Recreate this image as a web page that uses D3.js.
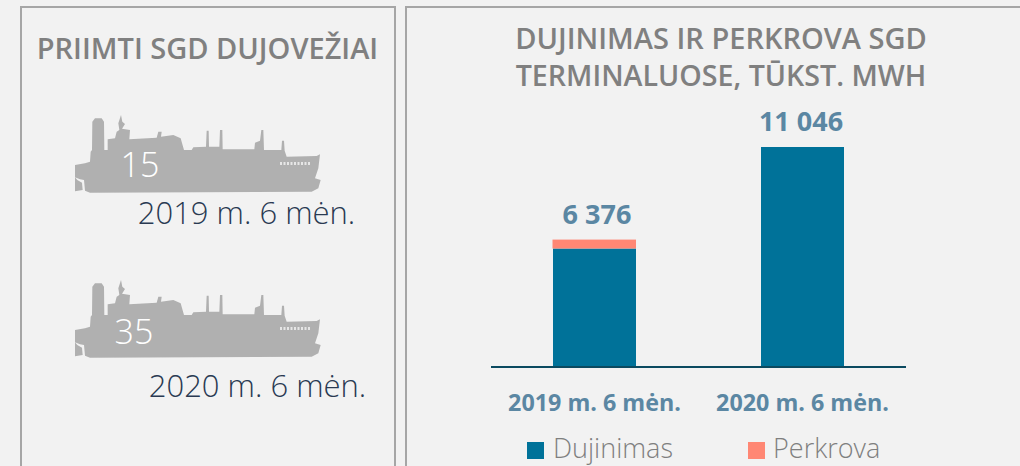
<!DOCTYPE html>
<html><head><meta charset="utf-8">
<script src="https://cdn.jsdelivr.net/npm/d3@7"></script>
<style>html,body{margin:0;padding:0;background:#f2f2f2;overflow:hidden}svg{display:block}text{font-family:"Open Sans",sans-serif}</style>
</head><body><svg id="c" width="1020" height="466"></svg>
<script>
const categories = ["2019 m. 6 mėn.", "2020 m. 6 mėn."];
const dujinimas = [5926, 11046];
const perkrova = [450, 0];
const totalLabels = ["6 376", "11 046"];
const vessels = [15, 35];
const seriesNames = ["Dujinimas", "Perkrova"];
const colors = ["#007299", "#ff8774"];
const shipOutline = [[45,195],[75,190],[90,185],[92,155],[96,150],[97,65],[105,55],[125,55],[132,65],[133,150],[143,150],[143,118],[165,115],[170,95],[178,90],[175,70],[183,45],[187,65],[195,72],[186,86],[210,90],[208,118],[290,113],[295,95],[305,95],[303,110],[340,105],[362,115],[372,150],[395,150],[400,142],[438,140],[440,92],[446,92],[447,140],[478,140],[480,90],[487,90],[488,148],[583,148],[585,128],[600,122],[604,90],[610,90],[612,150],[664,150],[666,122],[672,122],[674,152],[680,170],[770,168],[780,163],[775,205],[765,235],[782,240],[775,265],[755,275],[90,278],[75,272],[72,240],[60,238],[45,232],[52,240],[66,248],[68,270],[45,274]];

const svg = d3.select("#c");
const panels = [[20,6,376,480],[405,6,640,480]];
svg.selectAll("rect.panel").data(panels).join("rect").attr("class","panel")
  .attr("x",d=>d[0]+1).attr("y",d=>d[1]+1).attr("width",d=>d[2]-2).attr("height",d=>d[3])
  .attr("fill","none").attr("stroke","#a6a6a6").attr("stroke-width",2);

const title = (x,y,t,s)=>svg.append("text").attr("x",x).attr("y",y).attr("text-anchor","middle")
  .attr("font-size",s).attr("font-weight",600).attr("fill","#808080").text(t);
title(207.5,59,"PRIIMTI SGD DUJOVEŽIAI",29);
title(721,49,"DUJINIMAS IR PERKROVA SGD",29);
title(721,86,"TERMINALUOSE, TŪKST. MWH",28.6);

// ships
const shipLine = d3.line().x(d=>d[0]/3).y(d=>d[1]/3);
const shipPos = [[60,100],[60,265]];
const numPos = [[140,177],[134,344]];
const capPos = [[246.5,224],[257.5,397]];
vessels.forEach((v,i)=>{
  const s = svg.append("g").attr("transform",`translate(${shipPos[i][0]},${shipPos[i][1]})`);
  s.append("path").attr("d",shipLine(shipOutline)+"Z").attr("fill","#b0b0b0");
  s.append("line").attr("x1",220).attr("x2",250).attr("y1",63.5).attr("y2",63.5)
    .attr("stroke","#e6e6e6").attr("stroke-width",3).attr("stroke-dasharray","2 1.5");
  svg.append("text").attr("x",numPos[i][0]).attr("y",numPos[i][1]).attr("text-anchor","middle")
    .attr("font-size",34).attr("font-weight",300).attr("fill","#fff").text(v);
  svg.append("text").attr("x",capPos[i][0]).attr("y",capPos[i][1]).attr("text-anchor","middle")
    .attr("font-size",31).attr("font-weight",300).attr("fill","#2a3a52").text(categories[i]);
});

// bars
const bw = 83;
const cx = d3.scalePoint().domain(categories).range([594.5,802.5]);
const y = d3.scaleLinear().domain([0,11046]).range([366,147]);
const g = svg.append("g");
g.selectAll("rect.d").data(categories).join("rect").attr("class","d")
  .attr("x",d=>cx(d)-bw/2).attr("width",bw)
  .attr("y",(d,i)=>y(dujinimas[i])).attr("height",(d,i)=>y(0)-y(dujinimas[i])).attr("fill",colors[0]);
g.selectAll("rect.p").data(categories).join("rect").attr("class","p")
  .attr("x",d=>cx(d)-bw/2-0.5).attr("width",bw+0.5)
  .attr("y",(d,i)=>y(dujinimas[i]+perkrova[i])).attr("height",(d,i)=>y(dujinimas[i])-y(dujinimas[i]+perkrova[i])).attr("fill",colors[1]);
g.selectAll("text.t").data(categories).join("text").attr("class","t")
  .attr("x",(d,i)=>cx(d)+(i?-1.5:2.5)).attr("y",(d,i)=>y(dujinimas[i]+perkrova[i])-16).attr("text-anchor","middle")
  .attr("font-size",27).attr("font-weight",700).attr("fill","#5b87a3").text((d,i)=>totalLabels[i]);
svg.append("line").attr("x1",491).attr("x2",906).attr("y1",367).attr("y2",367).attr("stroke","#0b4a60").attr("stroke-width",2);
g.selectAll("text.c").data(categories).join("text").attr("class","c")
  .attr("x",d=>cx(d)).attr("y",411).attr("text-anchor","middle")
  .attr("font-size",23.3).attr("font-weight",700).attr("fill","#5b87a3").text(d=>d);

// legend
const lx=[527,748], tx=[553,773];
seriesNames.forEach((n,i)=>{
  svg.append("rect").attr("x",lx[i]).attr("y",442).attr("width",17).attr("height",17).attr("fill",colors[i]);
  svg.append("text").attr("x",tx[i]).attr("y",457.5).attr("font-size",27).attr("font-weight",300).attr("fill","#7f7f7f").text(n);
});
</script></body></html>
